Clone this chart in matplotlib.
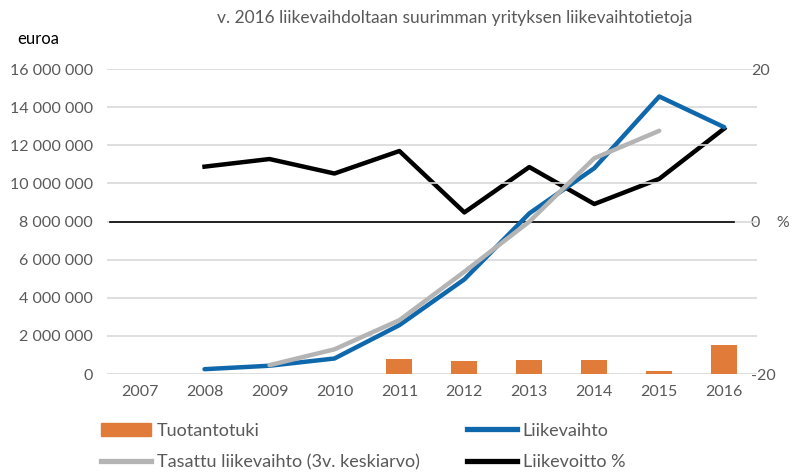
import matplotlib
matplotlib.use("Agg")
import matplotlib.pyplot as plt
from matplotlib.patches import Patch
from matplotlib.lines import Line2D

plt.rcParams['font.family'] = ['Lato', 'DejaVu Sans']

years = ['2007', '2008', '2009', '2010', '2011', '2012', '2013', '2014', '2015', '2016']
tuotantotuki = [None, None, None, None, 790000, 670000, 730000, 730000, 160000, 1520000]
liikevaihto = [None, 260000, 440000, 820000, 2570000, 4970000, 8430000, 10800000, 14560000, 12950000]
tasattu = [None, None, 470000, 1300000, 2830000, 5370000, 8000000, 11320000, 12760000, None]
liikevoitto = [None, 7.2, 8.2, 6.3, 9.25, 1.2, 7.15, 2.3, 5.6, 12.2]

left_ticks = [0, 2000000, 4000000, 6000000, 8000000, 10000000, 12000000, 14000000, 16000000]
left_labels = ['0', '2 000 000', '4 000 000', '6 000 000', '8 000 000', '10 000 000',
               '12 000 000', '14 000 000', '16 000 000']
right_ticks = [-20, 0, 20]
right_labels = ['-20', '0    %', '20']

txt = '#595959'
orange = '#E07B39'
blue = '#0F68AB'
gray = '#B4B4B4'

fig = plt.figure(figsize=(8.05, 4.76), dpi=100)
ax = fig.add_axes([0.133, 0.214, 0.807, 0.641])
x = list(range(len(years)))

def pts(vals):
    xs = [i for i, v in enumerate(vals) if v is not None]
    ys = [v for v in vals if v is not None]
    return xs, ys

bx, by = pts(tuotantotuki)
ax.bar(bx, by, width=0.4, color=orange, zorder=2)
lx, ly = pts(liikevaihto)
ax.plot(lx, ly, color=blue, lw=3.2, solid_capstyle='round', zorder=3)
tx, ty = pts(tasattu)
ax.plot(tx, ty, color=gray, lw=3.2, solid_capstyle='round', zorder=4)
ax.axhline(8000000, xmin=0.005, xmax=0.965, color='black', lw=1.2, zorder=1.5)

ax.set_xlim(-0.5, len(years) - 0.5)
ax.set_ylim(0, 16000000)
ax.set_yticks(left_ticks)
ax.set_yticklabels(left_labels)
ax.set_xticks(x)
ax.set_xticklabels(years)
ax.grid(axis='y', color='#D9D9D9', lw=1.2, zorder=0)
ax.set_axisbelow(True)
for s in ax.spines.values():
    s.set_visible(False)
ax.tick_params(length=0, labelsize=11.5, colors=txt, pad=8)
ax.tick_params(axis='y', pad=10)

ax2 = ax.twinx()
ax2.set_ylim(-20, 20)
ax2.set_yticks(right_ticks)
ax2.set_yticklabels(right_labels)
vx, vy = pts(liikevoitto)
ax2.plot(vx, vy, color='black', lw=3.2, zorder=5)
for s in ax2.spines.values():
    s.set_visible(False)
ax2.tick_params(length=0, labelsize=11.5, colors=txt, pad=-4)
ax2.set_xlim(-0.5, len(years) - 0.5)
ax.set_zorder(ax2.get_zorder() + 1)
ax.patch.set_visible(False)

fig.text(0.565, 0.962, 'v. 2016 liikevaihdoltaan suurimman yrityksen liikevaihtotietoja',
         ha='center', va='center', fontsize=12.5, color=txt)
fig.text(0.048, 0.918, 'euroa', ha='center', va='center', fontsize=12, color='black')

handles = [Patch(color=orange), Line2D([], [], color=gray, lw=3.8),
           Line2D([], [], color=blue, lw=3.8), Line2D([], [], color='black', lw=3.8)]
labels = ['Tuotantotuki', 'Tasattu liikevaihto (3v. keskiarvo)', 'Liikevaihto', 'Liikevoitto %']
fig.legend(handles, labels, ncol=2, loc='lower left', bbox_to_anchor=(0.105, -0.022),
           frameon=False, fontsize=13, labelcolor=txt, handlelength=2.8,
           handletextpad=0.3, columnspacing=2.6, labelspacing=0.85)

fig.savefig('out.png', dpi=100)
